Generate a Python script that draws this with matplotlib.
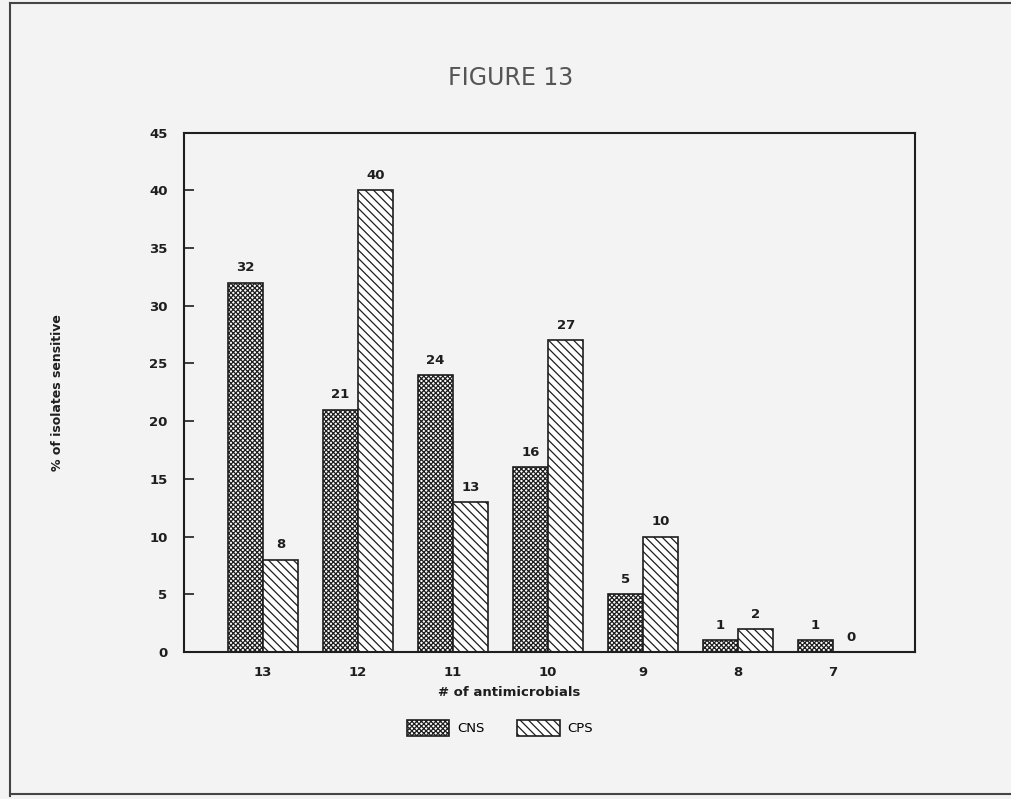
import matplotlib
matplotlib.use("Agg")
import matplotlib.pyplot as plt
import numpy as np
from matplotlib.patches import Patch
from matplotlib.lines import Line2D

categories = ['13', '12', '11', '10', '9', '8', '7']
cns = [32, 21, 24, 16, 5, 1, 1]
cps = [8, 40, 13, 27, 10, 2, 0]
series_names = ['CNS', 'CPS']
y_ticks = [0, 5, 10, 15, 20, 25, 30, 35, 40, 45]

plt.rcParams['hatch.linewidth'] = 0.9
plt.rcParams['font.family'] = 'DejaVu Sans'

bg = '#f3f3f3'
ink = '#1e1e1e'
cns_hatch = 'xxxxxxx'
cps_hatch = '\\' * 4

fig = plt.figure(figsize=(10.12, 7.99), dpi=100, facecolor=bg)
ax = fig.add_axes([0.182, 0.184, 0.722, 0.65])
ax.set_facecolor(bg)

x = np.arange(len(categories))
w = 0.37
b1 = ax.bar(x - w / 2, cns, width=w, color='white', edgecolor=ink,
            hatch=cns_hatch, linewidth=1.2)
b2 = ax.bar(x + w / 2, cps, width=w, color='white', edgecolor=ink,
            hatch=cps_hatch, linewidth=1.2)

for bars, vals in [(b1, cns), (b2, cps)]:
    for bar, v in zip(bars, vals):
        ax.annotate(str(v), (bar.get_x() + bar.get_width() / 2, v),
                    xytext=(0, 6), textcoords='offset points',
                    ha='center', va='bottom', fontsize=9.5,
                    fontweight='bold', color=ink)

ax.set_xlim(-0.83, 6.86)
ax.set_ylim(0, 45)
ax.set_xticks(x)
ax.set_xticklabels(categories, fontsize=9.5, fontweight='bold', color=ink)
ax.set_yticks(y_ticks)
ax.set_yticklabels([str(t) for t in y_ticks], fontsize=9.5,
                   fontweight='bold', color=ink)
ax.tick_params(axis='x', length=0, pad=10)
ax.tick_params(axis='y', direction='in', length=7, width=1.2, color=ink, pad=12)
for s in ax.spines.values():
    s.set_linewidth(1.5)
    s.set_color(ink)

ax.set_ylabel('% of isolates sensitive', fontsize=9, fontweight='bold', color=ink)
ax.yaxis.set_label_coords(-0.165, 0.5)

fig.text(509 / 1012, 1 - 692 / 799, '# of antimicrobials', ha='center',
         va='center', fontsize=9.5, fontweight='bold', color=ink)
fig.text(511 / 1012, 1 - 78 / 799, 'FIGURE 13', ha='center', va='center',
         fontsize=17, color='#555555')

handles = [Patch(facecolor='white', edgecolor=ink, hatch=cns_hatch, linewidth=1.2),
           Patch(facecolor='white', edgecolor=ink, hatch=cps_hatch, linewidth=1.2)]
fig.legend(handles, series_names, loc='center', bbox_to_anchor=(500 / 1012, 1 - 728 / 799),
           ncol=2, frameon=False, fontsize=9.5, handlelength=3.2, handleheight=1.4,
           columnspacing=2.5, handletextpad=0.6)

# page border from the scan
fig.add_artist(Line2D([0.01, 0.01], [0.004, 0.996], color='#444444', lw=1.5))
fig.add_artist(Line2D([0.01, 1.0], [0.996, 0.996], color='#444444', lw=1.5))
fig.add_artist(Line2D([0.01, 1.0], [0.006, 0.006], color='#444444', lw=1.5))

fig.savefig('out.png', dpi=100, facecolor=bg)
